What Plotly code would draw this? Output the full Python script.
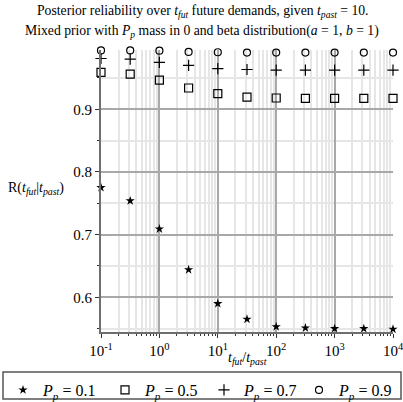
import plotly.graph_objects as go

ratio = [0.1, 0.3162, 1, 3.162, 10, 31.62, 100, 316.2, 1000, 3162, 10000]
r_p01 = [0.775, 0.754, 0.709, 0.644, 0.590, 0.565, 0.553, 0.551, 0.550, 0.550, 0.549]
r_p05 = [0.959, 0.956, 0.9465, 0.934, 0.925, 0.9195, 0.918, 0.9175, 0.9175, 0.9175, 0.9175]
r_p07 = [0.981, 0.980, 0.975, 0.970, 0.965, 0.9635, 0.9625, 0.9625, 0.9625, 0.9625, 0.9625]
r_p09 = [0.994, 0.994, 0.9935, 0.9915, 0.991, 0.9905, 0.9905, 0.9905, 0.9905, 0.9905, 0.9905]
series_names = ["<i>P</i><sub><i>p</i></sub> = 0.1", "<i>P</i><sub><i>p</i></sub> = 0.5",
                "<i>P</i><sub><i>p</i></sub> = 0.7", "<i>P</i><sub><i>p</i></sub> = 0.9"]
y_ticks = [0.6, 0.7, 0.8, 0.9]
y_minor = [0.55, 0.65, 0.75, 0.85, 0.95]
x_ticks = [0.1, 1, 10, 100, 1000, 10000]
x_ticktext = ["10<sup>-1</sup>", "10<sup>0</sup>", "10<sup>1</sup>", "10<sup>2</sup>",
              "10<sup>3</sup>", "10<sup>4</sup>"]
x_minor = [m * d for d in [0.1, 1, 10, 100, 1000] for m in range(2, 10)]

FONT = "Liberation Serif"
L, R, T, B, W, H = 101, 10, 50, 70, 403, 402
PW, PH = W - L - R, H - T - B

def px_x(px):
    return (px - L) / PW

def px_y(py):
    return (H - B - py) / PH

fig = go.Figure()
styles = [
    dict(symbol="star", size=7, color="black", line=dict(width=0)),
    dict(symbol="square-open", size=8, color="black", line=dict(width=1.2, color="black")),
    dict(symbol="cross-thin", size=8, color="black", line=dict(width=1.2, color="black")),
    dict(symbol="circle-open", size=7, color="black", line=dict(width=1.2, color="black")),
]
legend_ids = ["legend", "legend2", "legend3", "legend4"]
legend_left_px = [3, 105, 204, 299]
for ys, name, st, lid in zip([r_p01, r_p05, r_p07, r_p09], series_names, styles, legend_ids):
    fig.add_trace(go.Scatter(x=ratio, y=ys, mode="markers", name=name, marker=st,
                             cliponaxis=False, legend=lid))

legend_layout = {}
for lid, lx in zip(legend_ids, legend_left_px):
    legend_layout[lid] = dict(orientation="h", x=px_x(lx), xanchor="left",
                              y=px_y(373), yanchor="top",
                              font=dict(family=FONT, size=16),
                              bgcolor="rgba(0,0,0,0)", borderwidth=0, itemsizing="trace")

fig.update_layout(
    width=W, height=H,
    margin=dict(l=L, r=R, t=T, b=B, autoexpand=False),
    paper_bgcolor="white", plot_bgcolor="white",
    font=dict(family=FONT, size=14, color="black"),
    showlegend=True,
    xaxis=dict(type="log", range=[-1, 4], tickvals=x_ticks, ticktext=x_ticktext,
               showgrid=True, gridcolor="#a8a8a8", gridwidth=1.5,
               showline=True, linecolor="#6e6e6e", linewidth=2,
               ticks="outside", ticklen=4, tickcolor="#333", zeroline=False,
               tickfont=dict(family=FONT, size=15), ticklabeloverflow="allow",
               minor=dict(tickvals=x_minor, showgrid=True, gridcolor="#e6e6e6",
                          ticks="outside", ticklen=2, tickcolor="#333")),
    yaxis=dict(range=[0.5446, 0.9946], tickvals=y_ticks, ticktext=[str(v) for v in y_ticks],
               showgrid=True, gridcolor="#a8a8a8", gridwidth=1.5,
               showline=True, linecolor="#6e6e6e", linewidth=2,
               ticks="outside", ticklen=4, tickcolor="#333", zeroline=False,
               tickfont=dict(family=FONT, size=15), ticklabeloverflow="allow",
               minor=dict(tickvals=y_minor, showgrid=True, gridcolor="#e6e6e6",
                          ticks="outside", ticklen=2, tickcolor="#333")),
    shapes=[dict(type="rect", xref="paper", yref="paper",
                 x0=px_x(3), x1=px_x(401), y0=px_y(399), y1=px_y(372),
                 line=dict(color="#555", width=1.5), fillcolor="rgba(0,0,0,0)")],
    **legend_layout,
)

fig.add_annotation(x=px_x(203), y=px_y(12), xref="paper", yref="paper", showarrow=False,
                   text="Posterior reliability over <i>t</i><sub><i>fut</i></sub> future demands, given <i>t</i><sub><i>past</i></sub> = 10.",
                   font=dict(family=FONT, size=13.7), xanchor="center", yanchor="middle")
fig.add_annotation(x=px_x(202), y=px_y(31), xref="paper", yref="paper", showarrow=False,
                   text="Mixed prior with <i>P</i><sub><i>p</i></sub> mass in 0 and beta distribution(<i>a</i> = 1, <i>b</i> = 1)",
                   font=dict(family=FONT, size=13.7), xanchor="center", yanchor="middle")
fig.add_annotation(x=px_x(36), y=px_y(188), xref="paper", yref="paper", showarrow=False,
                   text="R(<i>t</i><sub><i>fut</i></sub>|<i>t</i><sub><i>past</i></sub>)",
                   font=dict(family=FONT, size=14), xanchor="center", yanchor="middle")
fig.add_annotation(x=0.5, y=px_y(358), xref="paper", yref="paper", showarrow=False,
                   text="<i>t</i><sub><i>fut</i></sub>/<i>t</i><sub><i>past</i></sub>",
                   font=dict(family=FONT, size=14), xanchor="center", yanchor="middle")

fig.write_html("out.html", config={"displayModeBar": False},
               post_script="document.body.style.margin='0';document.body.style.overflow='hidden';")
